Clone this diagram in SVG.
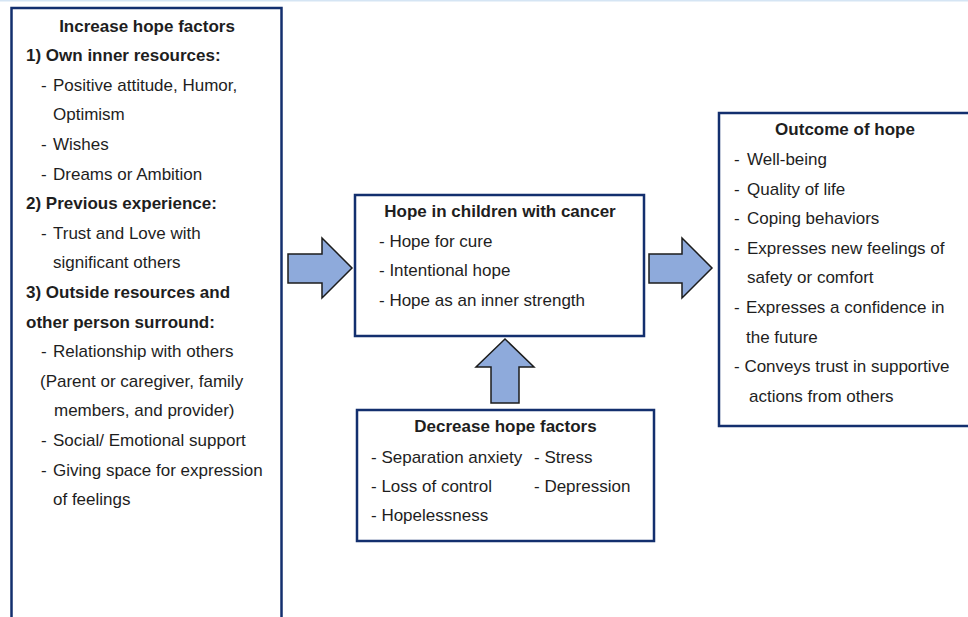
<svg xmlns="http://www.w3.org/2000/svg" width="968" height="617" viewBox="0 0 968 617">
<style>
.box{fill:#fff;stroke:#132f6e;stroke-width:2.5}
.arr{fill:#8eaadb;stroke:#1c1c1c;stroke-width:1.5;stroke-linejoin:miter}
text{font-family:"Liberation Sans",Arial,sans-serif;font-size:17px;fill:#1e1e1e}
.b{font-weight:bold}
.c{text-anchor:middle}
</style>
<rect x="0" y="0" width="968" height="617" fill="#fff"/>
<rect x="0" y="0" width="968" height="1.5" fill="#d5e5f4"/>
<g id="connectors">
<polygon class="arr" points="288,254 322,254 322,238 352,268 322,298 322,283 288,283"/>
<polygon class="arr" points="649,254 682,254 682,238 712,268 682,298 682,283 649,283"/>
<polygon class="arr" points="491,403 491,367 476,367 505,339 534,367 519,367 519,403"/>
</g>
<g id="increase">
<rect class="box" x="11.5" y="8" width="270" height="640"/>
<text class="b c" x="147" y="31.5">Increase hope factors</text>
<text class="b" x="26" y="61.1">1) Own inner resources:</text>
<text x="41" y="90.7">-</text><text x="53" y="90.7">Positive attitude, Humor,</text>
<text x="53" y="120.3">Optimism</text>
<text x="41" y="149.9">-</text><text x="53" y="149.9">Wishes</text>
<text x="41" y="179.5">-</text><text x="53" y="179.5">Dreams or Ambition</text>
<text class="b" x="26" y="209.1">2) Previous experience:</text>
<text x="41" y="238.7">-</text><text x="53" y="238.7">Trust and Love with</text>
<text x="53" y="268.3">significant others</text>
<text class="b" x="26" y="297.9">3) Outside resources and</text>
<text class="b" x="26" y="327.5">other person surround:</text>
<text x="41" y="357.1">-</text><text x="53" y="357.1">Relationship with others</text>
<text x="40" y="386.7">(Parent or caregiver, family</text>
<text x="54" y="416.3">members, and provider)</text>
<text x="41" y="445.9">-</text><text x="53" y="445.9">Social/ Emotional support</text>
<text x="41" y="475.5">-</text><text x="53" y="475.5">Giving space for expression</text>
<text x="53" y="505.1">of feelings</text>
</g>
<g id="hope">
<rect class="box" x="355" y="195" width="289" height="141"/>
<text class="b c" x="500" y="216.7">Hope in children with cancer</text>
<text x="379" y="246.7">- Hope for cure</text>
<text x="379" y="276.4">- Intentional hope</text>
<text x="379" y="306.1">- Hope as an inner strength</text>
</g>
<g id="decrease">
<rect class="box" x="357" y="410" width="297" height="131"/>
<text class="b c" x="505.5" y="432">Decrease hope factors</text>
<text x="371" y="462.7">- Separation anxiety</text>
<text x="534" y="462.7">- Stress</text>
<text x="371" y="491.7">- Loss of control</text>
<text x="534" y="491.7">- Depression</text>
<text x="371" y="520.7">- Hopelessness</text>
</g>
<g id="outcome">
<rect class="box" x="719" y="113" width="280" height="313"/>
<text class="b c" x="845" y="135">Outcome of hope</text>
<text x="734" y="165">-</text><text x="747" y="165">Well-being</text>
<text x="734" y="194.6">-</text><text x="747" y="194.6">Quality of life</text>
<text x="734" y="224.2">-</text><text x="747" y="224.2">Coping behaviors</text>
<text x="734" y="253.8">-</text><text x="747" y="253.8">Expresses new feelings of</text>
<text x="747" y="283.4">safety or comfort</text>
<text x="734" y="313">-</text><text x="746" y="313">Expresses a confidence in</text>
<text x="746" y="342.6">the future</text>
<text x="734" y="372.2">- Conveys trust in supportive</text>
<text x="749" y="401.8">actions from others</text>
</g>
</svg>
